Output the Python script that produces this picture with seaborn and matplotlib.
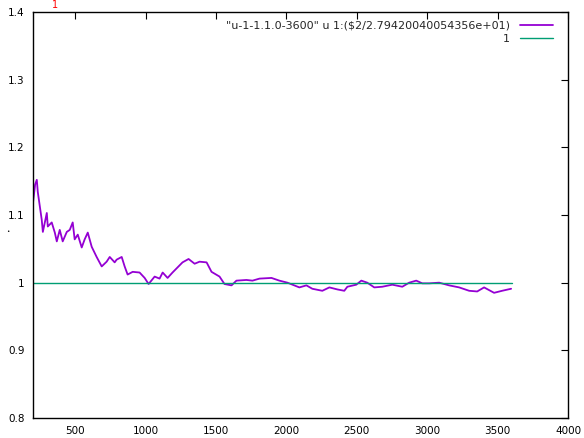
import matplotlib
matplotlib.use("Agg")
import matplotlib.pyplot as plt
import seaborn as sns
import pandas as pd

x_vals = [200, 215, 227, 234, 262, 270, 298, 305, 333, 355, 369, 390, 411, 440, 461, 482,
          496, 518, 546, 567, 589, 617, 652, 688, 723, 745, 780, 794, 830, 851, 872, 908,
          957, 993, 1021, 1064, 1099, 1121, 1156, 1191, 1262, 1305, 1348, 1383, 1433, 1468,
          1525, 1560, 1610, 1645, 1716, 1759, 1809, 1894, 1950, 2007, 2092, 2142, 2184,
          2255, 2305, 2362, 2411, 2433, 2496, 2532, 2574, 2624, 2681, 2752, 2823, 2872,
          2922, 2965, 3014, 3085, 3156, 3227, 3298, 3355, 3404, 3475, 3532, 3596]
ratio_vals = [1.118, 1.145, 1.152, 1.134, 1.093, 1.075, 1.103, 1.083, 1.089, 1.074, 1.061,
              1.078, 1.061, 1.075, 1.078, 1.089, 1.064, 1.071, 1.052, 1.064, 1.074, 1.053,
              1.038, 1.024, 1.031, 1.038, 1.030, 1.034, 1.038, 1.024, 1.012, 1.016, 1.015,
              1.007, 0.998, 1.009, 1.006, 1.015, 1.007, 1.015, 1.030, 1.035, 1.028, 1.031,
              1.030, 1.016, 1.009, 0.998, 0.996, 1.003, 1.004, 1.003, 1.006, 1.007, 1.003,
              1.000, 0.993, 0.996, 0.991, 0.988, 0.993, 0.990, 0.988, 0.994, 0.997, 1.003,
              1.000, 0.993, 0.994, 0.997, 0.994, 1.000, 1.003, 0.999, 0.999, 1.000, 0.996,
              0.993, 0.988, 0.987, 0.993, 0.985, 0.988, 0.991]
ref_x = [200, 3600]
ref_y = [1.0, 1.0]
x_ticks = [500, 1000, 1500, 2000, 2500, 3000, 3500, 4000]
y_ticks = [0.8, 0.9, 1.0, 1.1, 1.2, 1.3, 1.4]
y_tick_labels = ["0.8", "0.9", "1", "1.1", "1.2", "1.3", "1.4"]
series_label = '"u-1-1.1.0-3600" u 1:($2/2.79420040054356e+01)'
ref_label = "1"

sns.set_style("white")
plt.rcParams['font.family'] = ['DejaVu Sans']

fig = plt.figure(figsize=(5.84, 4.38), dpi=100)
ax = fig.add_axes([33/584, 20/438, 535/584, 406/438])

df = pd.DataFrame({"x": x_vals, "y": ratio_vals})
dref = pd.DataFrame({"x": ref_x, "y": ref_y})
sns.lineplot(data=df, x="x", y="y", ax=ax, color="#9400d3", lw=1.3, sort=False, label=series_label)
sns.lineplot(data=dref, x="x", y="y", ax=ax, color="#009e73", lw=1.0, sort=False, label=ref_label)

ax.set_xlim(200, 4000)
ax.set_ylim(0.8, 1.4)
ax.set_xticks(x_ticks)
ax.set_xticklabels([str(t) for t in x_ticks])
ax.set_yticks(y_ticks)
ax.set_yticklabels(y_tick_labels)
ax.tick_params(direction="in", length=5, width=0.8, labelsize=7.5, colors="black",
               top=True, right=True, pad=6)
ax.set_xlabel("")
ax.set_ylabel("")
for s in ax.spines.values():
    s.set_color("black")
    s.set_linewidth(1.0)

leg = ax.legend(loc="upper right", frameon=False, markerfirst=False, fontsize=8,
                handlelength=3.0, handletextpad=0.9, borderaxespad=0.2, labelspacing=0.3,
                bbox_to_anchor=(0.985, 0.995))
for t in leg.get_texts():
    t.set_ha("right")

fig.text(55/584, 1 - 5/438, "1", color="red", fontsize=7, ha="center", va="center")
fig.text(8/584, 1 - 232/438, "•", color="black", fontsize=4, ha="center", va="center")

fig.savefig("out.png", dpi=100)
